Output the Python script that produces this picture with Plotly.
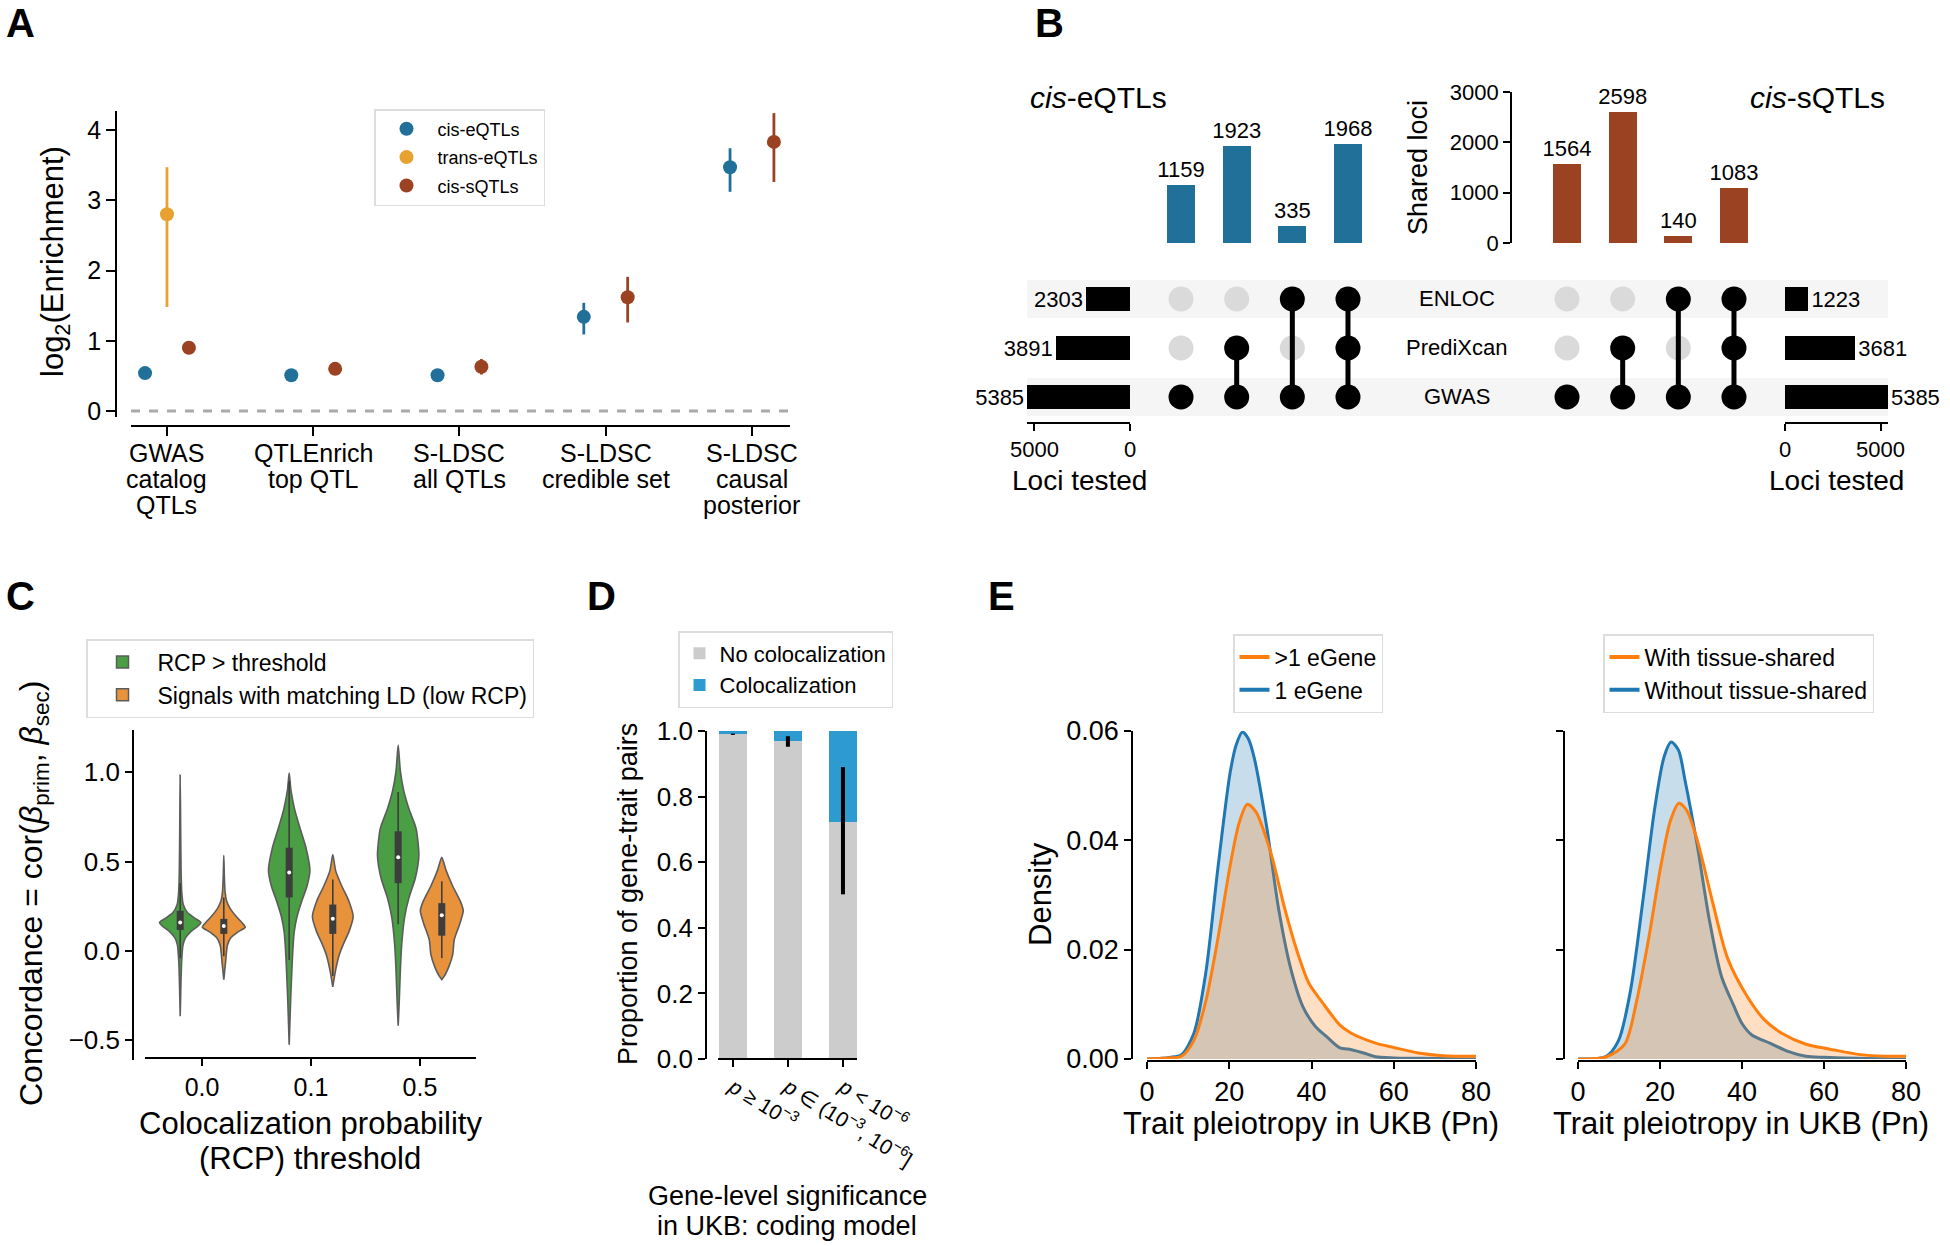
import plotly.graph_objects as go

W, H = 1950, 1246
def px(x): return x / W
def py(y): return 1 - y / H

FONT = "Liberation Sans, Arial, Helvetica, sans-serif"

# ---------------- Panel A data ----------------
a_methods = [["GWAS", "catalog", "QTLs"], ["QTLEnrich", "top QTL"], ["S-LDSC", "all QTLs"],
             ["S-LDSC", "credible set"], ["S-LDSC", "causal", "posterior"]]
a_cis_e = [0.54, 0.51, 0.51, 1.34, 3.47]
a_cis_e_lo = [0.52, 0.49, 0.49, 1.09, 3.12]
a_cis_e_hi = [0.56, 0.53, 0.53, 1.54, 3.74]
a_trans_e = [2.80]
a_trans_e_lo = [1.48]
a_trans_e_hi = [3.47]
a_cis_s = [0.90, 0.60, 0.63, 1.62, 3.83]
a_cis_s_lo = [0.86, 0.57, 0.52, 1.26, 3.26]
a_cis_s_hi = [0.94, 0.63, 0.74, 1.91, 4.24]
a_yticks = [0, 1, 2, 3, 4]

# ---------------- Panel B data ----------------
b_sets = ["ENLOC", "PrediXcan", "GWAS"]
b_combos = [["GWAS"], ["PrediXcan", "GWAS"], ["ENLOC", "GWAS"], ["ENLOC", "PrediXcan", "GWAS"]]
b_e_counts = [1159, 1923, 335, 1968]
b_s_counts = [1564, 2598, 140, 1083]
b_e_tested = [2303, 3891, 5385]
b_s_tested = [1223, 3681, 5385]

# ---------------- Panel C data ----------------
c_thresholds = ["0.0", "0.1", "0.5"]
c_rcp0_y = [0.985, 0.7, 0.45, 0.33, 0.26, 0.215, 0.185, 0.16, 0.14, 0.11, 0.075, 0.035, -0.06, -0.2, -0.365]
c_rcp0_w = [0.0, 0.004, 0.008, 0.014, 0.028, 0.066, 0.13, 0.19, 0.165, 0.1, 0.05, 0.026, 0.013, 0.006, 0.0]
c_rcp1_y = [0.996, 0.9, 0.793, 0.686, 0.578, 0.45, 0.364, 0.279, 0.193, 0.107, 0.0, -0.13, -0.28, -0.525]
c_rcp1_w = [0.0, 0.016, 0.05, 0.1, 0.154, 0.19, 0.164, 0.115, 0.072, 0.046, 0.033, 0.023, 0.013, 0.0]
c_rcp5_y = [1.153, 1.007, 0.9, 0.793, 0.686, 0.536, 0.407, 0.3, 0.193, 0.043, -0.107, -0.28, -0.418]
c_rcp5_w = [0.0, 0.02, 0.05, 0.1, 0.164, 0.19, 0.157, 0.1, 0.06, 0.033, 0.02, 0.01, 0.0]
c_ld0_y = [0.536, 0.42, 0.33, 0.28, 0.236, 0.193, 0.15, 0.133, 0.107, 0.075, 0.032, -0.064, -0.16]
c_ld0_w = [0.0, 0.005, 0.012, 0.026, 0.06, 0.115, 0.18, 0.197, 0.13, 0.066, 0.033, 0.016, 0.0]
c_ld1_y = [0.54, 0.45, 0.364, 0.279, 0.193, 0.107, 0.043, -0.02, -0.107, -0.2]
c_ld1_w = [0.0, 0.026, 0.082, 0.148, 0.187, 0.148, 0.1, 0.06, 0.026, 0.0]
c_ld5_y = [0.525, 0.45, 0.364, 0.279, 0.225, 0.15, 0.064, -0.02, -0.086, -0.13, -0.16]
c_ld5_w = [0.0, 0.04, 0.1, 0.17, 0.197, 0.164, 0.115, 0.1, 0.066, 0.033, 0.0]
c_rcp_q1 = [0.118, 0.30, 0.38]
c_rcp_med = [0.16, 0.44, 0.525]
c_rcp_q3 = [0.225, 0.578, 0.67]
c_rcp_wlo = [-0.04, -0.05, 0.15]
c_rcp_whi = [0.38, 0.95, 0.89]
c_ld_q1 = [0.096, 0.096, 0.086]
c_ld_med = [0.14, 0.18, 0.2]
c_ld_q3 = [0.18, 0.26, 0.268]
c_ld_wlo = [-0.03, -0.14, -0.04]
c_ld_whi = [0.3, 0.4, 0.39]
c_yticks = [-0.5, 0.0, 0.5, 1.0]
c_yticktext = ["\u22120.5", "0.0", "0.5", "1.0"]

# ---------------- Panel D data ----------------
d_categories = ["<i>p</i> \u2265 10<sup>\u22123</sup>",
                "<i>p</i> \u2208 (10<sup>\u22123</sup>, 10<sup>\u22126</sup>]",
                "<i>p</i> &lt; 10<sup>\u22126</sup>"]
d_no_coloc = [0.99, 0.97, 0.722]
d_coloc = [0.01, 0.03, 0.278]
d_err_lo = [0.988, 0.952, 0.502]
d_err_hi = [0.992, 0.984, 0.89]
d_yticks = [0.0, 0.2, 0.4, 0.6, 0.8, 1.0]

# ---------------- Panel E data ----------------
e_multi_x = [0, 5, 8.4, 11.4, 14.3, 17.3, 20.2, 22.4, 24.4, 26.5, 28.5, 30.5, 33.5, 36.5, 39.4, 42.4, 46.8, 49.7, 55.6, 60, 66, 72, 80]
e_multi_y = [0, 0.0002, 0.0005, 0.0034, 0.0106, 0.0223, 0.0353, 0.0432, 0.0466, 0.0452, 0.0415, 0.0367, 0.0275, 0.0197, 0.0138, 0.0106, 0.0063, 0.0047, 0.0029, 0.0021, 0.0011, 0.0006, 0.0005]
e_single_x = [0, 5.5, 8.4, 11.4, 14.3, 17.3, 20.2, 21.7, 23.2, 24.7, 26.1, 29.1, 32, 35, 37.9, 40.9, 43.8, 46.8, 49.7, 52.7, 55.6, 60, 70, 80]
e_single_y = [0, 0.0003, 0.0008, 0.0047, 0.0158, 0.0353, 0.0523, 0.0575, 0.0598, 0.0585, 0.055, 0.0425, 0.0275, 0.0164, 0.0096, 0.006, 0.004, 0.0021, 0.0017, 0.0011, 0.0004, 0.0002, 0.0001, 0.0]
e_with_x = [0, 6.9, 11.4, 14.3, 17.3, 20.2, 22.5, 24.6, 26.5, 29.1, 32.8, 36.5, 40.9, 45.3, 49.7, 55.6, 61.5, 68.9, 75, 80]
e_with_y = [0, 0.0004, 0.0027, 0.0106, 0.0223, 0.0353, 0.0435, 0.0468, 0.0455, 0.04, 0.0288, 0.0184, 0.0119, 0.0073, 0.0047, 0.0027, 0.0018, 0.0008, 0.0005, 0.0005]
e_without_x = [0, 6.9, 9.9, 12.8, 15.8, 18.7, 21, 22.7, 24.5, 26.1, 29.1, 32, 35, 37.9, 40, 42.4, 46.8, 51.2, 55.6, 60, 70, 80]
e_without_y = [0, 0.0005, 0.0034, 0.0125, 0.0288, 0.0458, 0.0553, 0.058, 0.0565, 0.051, 0.039, 0.0256, 0.0151, 0.0099, 0.0065, 0.0044, 0.0029, 0.0014, 0.0005, 0.0003, 0.0001, 0]
e_xticks = [0, 20, 40, 60, 80]
e_yticks = [0.0, 0.02, 0.04, 0.06]

# colours
C_CISE = "#21709a"
C_TRANS = "#e8a232"
C_CISS = "#9a4222"
C_GREEN = "#4a9e43"
C_ORANGE = "#e8923c"
C_GRAYBAR = "#cccccc"
C_BLUEBAR = "#2d9ad0"
C_EBLUE = "#1f77b4"
C_EORANGE = "#ff7f0e"

fig = go.Figure()

# ================= Panel A =================
offsets = [-0.15, 0.0, 0.15]
def errs(v, lo, hi):
    return [h - x for x, h in zip(v, hi)], [x - l for x, l in zip(v, lo)]

for name, vals, lo, hi, col, off in [
        ("cis-eQTLs", a_cis_e, a_cis_e_lo, a_cis_e_hi, C_CISE, offsets[0]),
        ("trans-eQTLs", a_trans_e, a_trans_e_lo, a_trans_e_hi, C_TRANS, offsets[1]),
        ("cis-sQTLs", a_cis_s, a_cis_s_lo, a_cis_s_hi, C_CISS, offsets[2])]:
    up, dn = errs(vals, lo, hi)
    fig.add_trace(go.Scatter(
        x=[i + off for i in range(len(vals))], y=vals, mode="markers", name=name,
        legendgroup=name,
        marker=dict(color=col, size=14),
        error_y=dict(type="data", symmetric=False, array=up, arrayminus=dn,
                     color=col, thickness=2.8, width=0),
        xaxis="x", yaxis="y", legend="legend", cliponaxis=False))

fig.add_shape(type="line", xref="x domain", yref="y", x0=0, x1=1, y0=0, y1=0,
              line=dict(color="#aaaaaa", width=3, dash="dash"), layer="below")

# ================= Panel B =================
for r in range(len(b_sets)):
    if r % 2 == 0:
        fig.add_shape(type="rect", xref="paper", yref="y3", x0=px(1027), x1=px(1888),
                      y0=r - 0.39, y1=r + 0.39, fillcolor="#f5f5f5",
                      line=dict(width=0), layer="below")

for xa, counts, col in [("x2", b_e_counts, C_CISE), ("x3", b_s_counts, C_CISS)]:
    fig.add_trace(go.Bar(x=list(range(len(counts))), y=counts, width=0.5,
                         marker=dict(color=col, line=dict(width=0)),
                         text=[str(c) for c in counts], textposition="outside",
                         textfont=dict(size=22, color="black", family=FONT),
                         constraintext="none", cliponaxis=False,
                         xaxis=xa, yaxis="y2", showlegend=False))
    gx, gy, bx, by, lx, ly = [], [], [], [], [], []
    for ci, combo in enumerate(b_combos):
        rows = [b_sets.index(s) for s in combo]
        for r in range(len(b_sets)):
            if r in rows:
                bx.append(ci); by.append(r)
            else:
                gx.append(ci); gy.append(r)
        if len(rows) > 1:
            lx += [ci, ci, None]; ly += [min(rows), max(rows), None]
    fig.add_trace(go.Scatter(x=gx, y=gy, mode="markers", marker=dict(color="#dadada", size=25),
                             xaxis=xa, yaxis="y3", showlegend=False))
    fig.add_trace(go.Scatter(x=lx, y=ly, mode="lines", line=dict(color="black", width=5),
                             xaxis=xa, yaxis="y3", showlegend=False))
    fig.add_trace(go.Scatter(x=bx, y=by, mode="markers", marker=dict(color="black", size=25),
                             xaxis=xa, yaxis="y3", showlegend=False))

for xa, tested in [("x4", b_e_tested), ("x5", b_s_tested)]:
    fig.add_trace(go.Bar(y=list(range(len(tested))), x=tested, orientation="h", width=0.49,
                         marker=dict(color="black", line=dict(width=0)),
                         text=[str(t) for t in tested], textposition="outside",
                         textfont=dict(size=22, color="black", family=FONT),
                         constraintext="none", cliponaxis=False,
                         xaxis=xa, yaxis="y3", showlegend=False))

# ================= Panel C =================
c_offsets = [-0.2, 0.2]
green_profiles = [(c_rcp0_y, c_rcp0_w), (c_rcp1_y, c_rcp1_w), (c_rcp5_y, c_rcp5_w)]
orange_profiles = [(c_ld0_y, c_ld0_w), (c_ld1_y, c_ld1_w), (c_ld5_y, c_ld5_w)]
for profiles, col, name, off in [
        (green_profiles, C_GREEN, "RCP > threshold", c_offsets[0]),
        (orange_profiles, C_ORANGE, "Signals with matching LD (low RCP)", c_offsets[1])]:
    for ci, (ys, ws) in enumerate(profiles):
        cx = ci + off
        xs = [cx - w for w in ws] + [cx + w for w in reversed(ws)]
        yy = list(ys) + list(reversed(ys))
        fig.add_trace(go.Scatter(x=xs, y=yy, mode="lines", fill="toself", fillcolor=col,
                                 line=dict(color="#5c5c5c", width=1.6, shape="spline", smoothing=0.6),
                                 xaxis="x6", yaxis="y4", showlegend=False))
    fig.add_trace(go.Bar(x=[None], y=[None], name=name, legend="legend2",
                         marker=dict(color=col, line=dict(color="#5c5c5c", width=1.5)),
                         xaxis="x6", yaxis="y4"))

for q1, med, q3, wlo, whi, off in [
        (c_rcp_q1, c_rcp_med, c_rcp_q3, c_rcp_wlo, c_rcp_whi, c_offsets[0]),
        (c_ld_q1, c_ld_med, c_ld_q3, c_ld_wlo, c_ld_whi, c_offsets[1])]:
    wx, wy, bx_, by_ = [], [], [], []
    for ci in range(len(q1)):
        wx += [ci + off, ci + off, None]; wy += [wlo[ci], whi[ci], None]
        bx_ += [ci + off, ci + off, None]; by_ += [q1[ci], q3[ci], None]
    fig.add_trace(go.Scatter(x=wx, y=wy, mode="lines", line=dict(color="#3d3d3d", width=1.6),
                             xaxis="x6", yaxis="y4", showlegend=False))
    fig.add_trace(go.Scatter(x=bx_, y=by_, mode="lines", line=dict(color="#3d3d3d", width=7),
                             xaxis="x6", yaxis="y4", showlegend=False))
    fig.add_trace(go.Scatter(x=[ci + off for ci in range(len(med))], y=med, mode="markers",
                             marker=dict(color="white", size=4),
                             xaxis="x6", yaxis="y4", showlegend=False))

# ================= Panel D =================
d_idx = list(range(len(d_categories)))
fig.add_trace(go.Bar(x=d_idx, y=d_no_coloc, width=0.5, name="No colocalization",
                     marker=dict(color=C_GRAYBAR, line=dict(width=0)),
                     xaxis="x7", yaxis="y5", legend="legend3"))
fig.add_trace(go.Bar(x=d_idx, y=d_coloc, width=0.5, name="Colocalization",
                     marker=dict(color=C_BLUEBAR, line=dict(width=0)),
                     xaxis="x7", yaxis="y5", legend="legend3"))
up, dn = errs(d_no_coloc, d_err_lo, d_err_hi)
fig.add_trace(go.Scatter(x=d_idx, y=d_no_coloc, mode="markers", marker=dict(size=1, opacity=0),
                         error_y=dict(type="data", symmetric=False, array=up, arrayminus=dn,
                                      color="black", thickness=4, width=0),
                         xaxis="x7", yaxis="y5", showlegend=False))

# ================= Panel E =================
def fill_rgba(hexcol, a):
    h = hexcol.lstrip("#")
    return "rgba(%d,%d,%d,%.2f)" % (int(h[0:2], 16), int(h[2:4], 16), int(h[4:6], 16), a)

for xa, ya, lg, (bx_e, by_e, bname), (ox_e, oy_e, oname) in [
        ("x8", "y6", "legend4", (e_single_x, e_single_y, "1 eGene"), (e_multi_x, e_multi_y, ">1 eGene")),
        ("x9", "y7", "legend5", (e_without_x, e_without_y, "Without tissue-shared"),
         (e_with_x, e_with_y, "With tissue-shared"))]:
    fig.add_trace(go.Scatter(x=bx_e, y=by_e, mode="lines", fill="tozeroy",
                             fillcolor=fill_rgba(C_EBLUE, 0.25),
                             line=dict(color=C_EBLUE, width=3, shape="spline", smoothing=0.8),
                             xaxis=xa, yaxis=ya, showlegend=False))
    fig.add_trace(go.Scatter(x=ox_e, y=oy_e, mode="lines", fill="tozeroy",
                             fillcolor=fill_rgba(C_EORANGE, 0.25),
                             line=dict(color=C_EORANGE, width=3, shape="spline", smoothing=0.8),
                             xaxis=xa, yaxis=ya, showlegend=False))
    fig.add_trace(go.Scatter(x=[None], y=[None], mode="lines", name=oname,
                             line=dict(color=C_EORANGE, width=4), xaxis=xa, yaxis=ya, legend=lg))
    fig.add_trace(go.Scatter(x=[None], y=[None], mode="lines", name=bname,
                             line=dict(color=C_EBLUE, width=4), xaxis=xa, yaxis=ya, legend=lg))

# ================= Layout =================
def ax(size, **kw):
    d = dict(showline=True, linecolor="black", linewidth=1.6, ticks="outside", ticklen=7,
             tickwidth=1.6, tickcolor="black", showgrid=False, zeroline=False, automargin=False,
             tickfont=dict(size=size, color="black", family=FONT))
    d.update(kw)
    return d

hidden = dict(visible=False, showgrid=False, zeroline=False, automargin=False)

def leg(x, y, size, **kw):
    d = dict(x=x, y=y, xanchor="left", yanchor="top", bgcolor="white",
             bordercolor="#dddddd", borderwidth=1.5, traceorder="normal",
             font=dict(size=size, color="black", family=FONT))
    d.update(kw)
    return d

layout = dict(
    width=W, height=H, margin=dict(l=0, r=0, t=0, b=0, pad=0, autoexpand=False), autosize=False,
    paper_bgcolor="white", plot_bgcolor="white", barmode="stack",
    font=dict(family=FONT, color="black"),
    # A
    xaxis=ax(25, domain=[px(131), px(790)], range=[-0.246, 4.26], anchor="free", position=py(426),
             tickvals=list(range(len(a_methods))), showticklabels=False, ticklen=9),
    yaxis=ax(25, domain=[py(417), py(111)], range=[-0.085, 4.27], anchor="free", position=px(116),
             tickvals=a_yticks, ticklen=9),
    # B
    xaxis2=dict(hidden, domain=[px(1153.2), px(1375.8)], range=[-0.5, 3.5], anchor="y3"),
    xaxis3=dict(hidden, domain=[px(1539.2), px(1761.8)], range=[-0.5, 3.5], anchor="y3"),
    xaxis4=ax(22, domain=[px(1027), px(1130)], range=[5390, 0], anchor="free", position=py(423),
              tickvals=[0, 5000]),
    xaxis5=ax(22, domain=[px(1785), px(1888)], range=[0, 5390], anchor="free", position=py(423),
              tickvals=[0, 5000]),
    yaxis2=ax(22, domain=[py(243), py(92)], range=[0, 3000], anchor="free", position=px(1511),
              tickvals=[0, 1000, 2000, 3000]),
    yaxis3=dict(hidden, domain=[py(421.5), py(274.5)], range=[2.5, -0.5], anchor="x2"),
    # C
    xaxis6=ax(25, domain=[px(145), px(476)], range=[-0.523, 2.514], anchor="free", position=py(1058),
              tickvals=list(range(len(c_thresholds))), ticktext=c_thresholds),
    yaxis4=ax(26, domain=[py(1060), py(730)], range=[-0.61, 1.237], anchor="free", position=px(133),
              tickvals=c_yticks, ticktext=c_yticktext),
    # D
    xaxis7=ax(21, domain=[px(718), px(857)], range=[-0.27, 2.255], anchor="free", position=py(1059),
              tickvals=d_idx, ticktext=d_categories, tickangle=32),
    yaxis5=ax(26, domain=[py(1059), py(731)], range=[0, 1.0], anchor="free", position=px(706),
              tickvals=d_yticks, tickformat=".1f"),
    # E
    xaxis8=ax(27, domain=[px(1147), px(1476)], range=[0, 80], anchor="free", position=py(1061),
              tickvals=e_xticks),
    yaxis6=ax(27, domain=[py(1059), py(731)], range=[0, 0.06], anchor="free", position=px(1132),
              tickvals=e_yticks, tickformat=".2f"),
    xaxis9=ax(27, domain=[px(1578), px(1906)], range=[0, 80], anchor="free", position=py(1061),
              tickvals=e_xticks),
    yaxis7=ax(27, domain=[py(1059), py(731)], range=[0, 0.06], anchor="free", position=px(1564),
              tickvals=e_yticks, showticklabels=False),
    legend=leg(px(374), py(109), 18, itemwidth=52, tracegroupgap=2, traceorder="grouped"),
    legend2=leg(px(86), py(639), 23, itemwidth=60),
    legend3=leg(px(678), py(631), 22),
    legend4=leg(px(1233), py(634), 23),
    legend5=leg(px(1603), py(634), 23),
)
fig.update_layout(**layout)

def ann(text, x, y, size, angle=0, bold=False, xanchor="center", yanchor="middle",
        xref="paper", yref="paper"):
    fig.add_annotation(text=("<b>%s</b>" % text) if bold else text, x=x, y=y,
                       xref=xref, yref=yref, showarrow=False, textangle=angle,
                       xanchor=xanchor, yanchor=yanchor,
                       font=dict(size=size, color="black", family=FONT))

# panel letters
for letter, lx_, ly_ in [("A", 20, 23), ("B", 1049, 23), ("C", 20, 596), ("D", 601, 596), ("E", 1001, 596)]:
    ann(letter, px(lx_), py(ly_), 40, bold=True)

# Panel A category labels (one text per line, tight line spacing like the reference)
for ci, lines in enumerate(a_methods):
    for li, line in enumerate(lines):
        ann(line, ci, py(453 + 26 * li), 25, xref="x")
ann("log<sub>2</sub>(Enrichment)", px(55), py(262), 31, angle=-90)
# Panel B titles
ann("<i>cis</i>-eQTLs", px(1098), py(98), 30)
ann("<i>cis</i>-sQTLs", px(1817), py(98), 30)
ann("Shared loci", px(1418), py(168), 27, angle=-90)
ann("Loci tested", px(1079), py(480), 28)
ann("Loci tested", px(1836), py(480), 28)
for r, s in enumerate(b_sets):
    ann(s, px(1457), r, 22, yref="y3")
# Panel C titles
ann("Concordance = cor(<i>\u03b2</i><sub>prim</sub>, <i>\u03b2</i><sub>sec</sub>)", px(33), py(894), 32, angle=-90)
ann("Colocalization probability", px(310), py(1123), 31)
ann("(RCP) threshold", px(310), py(1158), 31)
# Panel D titles
ann("Proportion of gene-trait pairs", px(628), py(894), 27, angle=-90)
ann("Gene-level significance", px(787), py(1196), 27)
ann("in UKB: coding model", px(787), py(1226), 27)
# Panel E titles
ann("Density", px(1040), py(894), 31, angle=-90)
ann("Trait pleiotropy in UKB (Pn)", px(1311), py(1123), 31)
ann("Trait pleiotropy in UKB (Pn)", px(1741), py(1123), 31)

fig.write_html("out.html", config={"displayModeBar": False},
               post_script="document.body.style.margin='0';")
